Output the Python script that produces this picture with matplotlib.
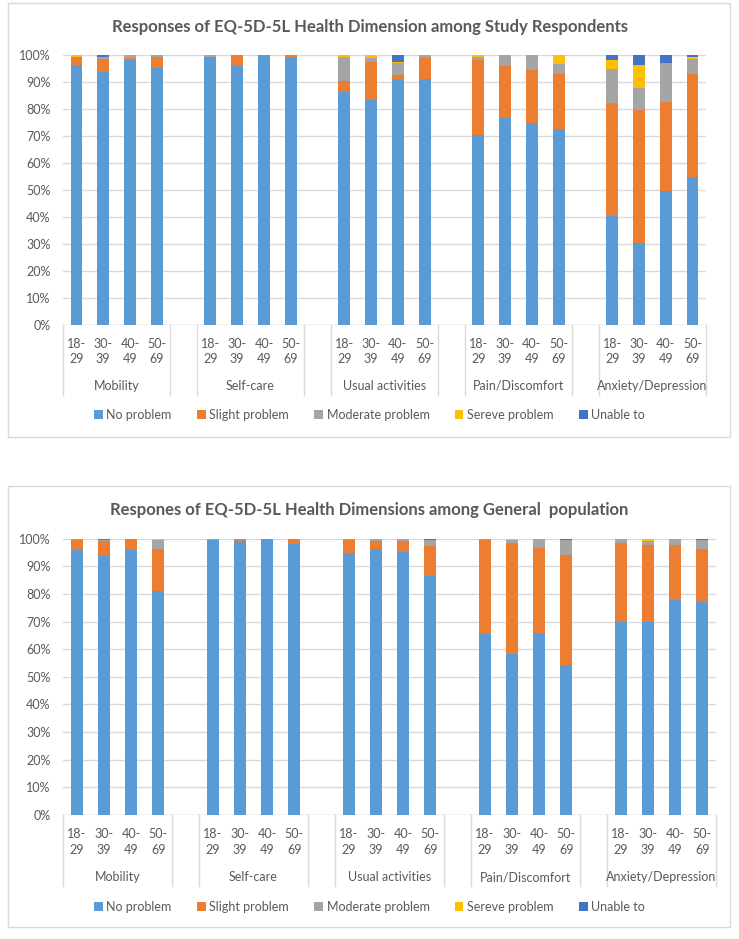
import matplotlib
matplotlib.use('Agg')
import matplotlib.pyplot as plt
from matplotlib.patches import Patch, Rectangle
from matplotlib.transforms import blended_transform_factory

plt.rcParams['font.family'] = ['Lato', 'DejaVu Sans']

W, H = 739, 939

DIMENSIONS = ['Mobility', 'Self-care', 'Usual activities', 'Pain/Discomfort', 'Anxiety/Depression']
AGES = ['18-\n29', '30-\n39', '40-\n49', '50-\n69']
LEVELS = ['No problem', 'Slight problem', 'Moderate problem', 'Sereve problem', 'Unable to']
COLORS = ['#5B9BD5', '#ED7D31', '#A5A5A5', '#FFC000', '#4472C4']

# study respondents, 5 dimensions x 4 age groups
study_no       = [96.3, 93.8, 98.4, 95.4,  99.4, 96.2, 100.0, 99.3,  86.8, 83.6, 90.7, 91.1,  70.3, 76.7, 74.9, 72.5,  40.6, 30.4, 49.6, 54.8]
study_slight   = [3.2, 4.9, 0.7, 4.0,  0.0, 3.8, 0.0, 0.7,  3.5, 13.8, 2.0, 7.9,  28.0, 19.4, 19.6, 20.7,  41.6, 49.5, 33.0, 38.4]
study_moderate = [0.0, 0.8, 0.9, 0.6,  0.6, 0.0, 0.0, 0.0,  9.1, 1.5, 4.4, 1.0,  1.2, 3.9, 5.5, 3.6,  12.6, 8.0, 14.4, 5.3]
study_severe   = [0.5, 0.0, 0.0, 0.0,  0.0, 0.0, 0.0, 0.0,  0.6, 1.1, 0.4, 0.0,  0.5, 0.0, 0.0, 3.2,  3.5, 8.5, 0.3, 0.9]
study_unable   = [0.0, 0.5, 0.0, 0.0,  0.0, 0.0, 0.0, 0.0,  0.0, 0.0, 2.5, 0.0,  0.0, 0.0, 0.0, 0.0,  1.7, 3.6, 2.7, 0.6]

# general population
general_no       = [96.0, 94.1, 96.0, 81.2,  99.5, 99.3, 100.0, 98.0,  94.8, 96.2, 95.2, 86.6,  65.4, 58.4, 65.7, 54.2,  69.8, 69.8, 77.8, 77.0]
general_slight   = [3.5, 4.9, 4.0, 15.0,  0.0, 0.7, 0.0, 2.0,  4.7, 3.0, 3.9, 10.6,  34.1, 40.2, 31.0, 39.9,  28.6, 27.9, 19.8, 19.4]
general_moderate = [0.5, 0.4, 0.0, 3.3,  0.5, 0.0, 0.0, 0.0,  0.5, 0.8, 0.9, 2.4,  0.5, 0.8, 3.3, 5.4,  1.6, 1.6, 2.4, 3.2]
general_severe   = [0.0, 0.0, 0.0, 0.5,  0.0, 0.0, 0.0, 0.0,  0.0, 0.0, 0.0, 0.0,  0.0, 0.6, 0.0, 0.0,  0.0, 0.7, 0.0, 0.0]
general_unable   = [0.0, 0.6, 0.0, 0.0,  0.0, 0.0, 0.0, 0.0,  0.0, 0.0, 0.0, 0.4,  0.0, 0.0, 0.0, 0.5,  0.0, 0.0, 0.0, 0.4]

TXT = '#595959'
GRID = '#D9D9D9'


def fy(py):
    return 1 - py / H


def slot_positions():
    xs = []
    for d in range(len(DIMENSIONS)):
        for a in range(len(AGES)):
            xs.append(d * 5 + a + 0.5)
    return xs


def draw_chart(fig, box, plot, title, series, lab):
    # box: frame top/bottom in px, plot: left, right, top(100%), bottom(0%) in px
    fig.patches.append(Rectangle((8 / W, fy(box[1])), 722 / W, (box[1] - box[0]) / H,
                                 transform=fig.transFigure, fill=False,
                                 edgecolor='#D9D9D9', lw=1))
    left, right, top, bot = plot
    ax = fig.add_axes([left / W, fy(bot), (right - left) / W, (bot - top) / H])
    xs = slot_positions()
    bottom = [0.0] * len(xs)
    for vals, color in zip(series, COLORS):
        ax.bar(xs, vals, width=0.44, bottom=bottom, color=color, zorder=3)
        bottom = [b + v for b, v in zip(bottom, vals)]
    ax.set_xlim(0, 24)
    ax.set_ylim(0, 100)
    ax.set_yticks(range(0, 101, 10))
    ax.set_yticklabels(['%d%%' % v for v in range(0, 101, 10)], color=TXT, fontsize=9)
    ax.yaxis.grid(True, color=GRID, lw=1, zorder=0)
    ax.tick_params(length=0, pad=9)
    ax.set_xticks([])
    for s in ax.spines.values():
        s.set_visible(False)
    ax.axhline(0, color=GRID, lw=1, zorder=2)

    tr = blended_transform_factory(ax.transData, fig.transFigure)
    for x, a in zip(xs, AGES * len(DIMENSIONS)):
        ax.text(x, fy(bot + lab[0]), a, transform=tr, ha='center', va='center',
                fontsize=9, color=TXT, linespacing=1.3)
    for d, name in enumerate(DIMENSIONS):
        ax.text(d * 5 + 2, fy(bot + lab[1]), name, transform=tr, ha='center',
                va='center', fontsize=9, color=TXT)
    for x in [0, 4, 5, 9, 10, 14, 15, 19, 20, 24]:
        ax.plot([x, x], [fy(bot), fy(bot + lab[2])], transform=tr, color=GRID,
                lw=1, clip_on=False)

    fig.text((W) / 2 / W, fy(box[0] + 24), title, ha='center', va='center',
             fontsize=12, fontweight='bold', color=TXT)
    handles = [Patch(facecolor=c, label=l) for c, l in zip(COLORS, LEVELS)]
    fig.legend(handles=handles, loc='center', bbox_to_anchor=(0.5, fy(bot + lab[3])),
               ncol=5, frameon=False, fontsize=9, handlelength=0.7,
               handleheight=0.7, handletextpad=0.3, columnspacing=2.0,
               labelcolor=TXT)


def main():
    fig = plt.figure(figsize=(W / 100, H / 100), dpi=100)
    study = [study_no, study_slight, study_moderate, study_severe, study_unable]
    general = [general_no, general_slight, general_moderate, general_severe, general_unable]
    draw_chart(fig, (3, 437), (63, 706, 55.3, 325),
               'Responses of EQ-5D-5L Health Dimension among Study Respondents',
               study, (26, 61, 70, 90))
    draw_chart(fig, (486, 927), (63, 716, 538.7, 815),
               'Respones of EQ-5D-5L Health Dimensions among General  population',
               general, (27, 62, 71, 92))
    fig.savefig('out.png', dpi=100)


if __name__ == '__main__':
    main()
